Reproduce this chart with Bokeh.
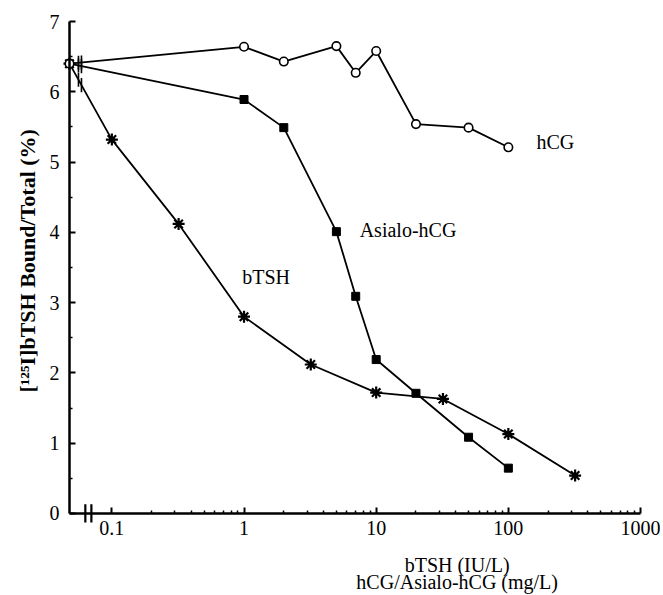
import numpy as np
from bokeh.plotting import figure
from bokeh.models import FixedTicker, Label
from bokeh.embed import file_html
from bokeh.resources import INLINE

# ---- data ----
zero_dose = 0.0478          # position used for the "zero" (no competitor) point
zero_value = 6.4

hcg_x = [1, 2, 5, 7, 10, 20, 50, 100]
hcg_y = [6.64, 6.43, 6.65, 6.27, 6.58, 5.54, 5.49, 5.21]

asialo_x = [1, 2, 5, 7, 10, 20, 50, 100]
asialo_y = [5.89, 5.49, 4.01, 3.09, 2.19, 1.71, 1.085, 0.645]

btsh_x = [0.1, 0.32, 1, 3.2, 10, 32, 100, 320]
btsh_y = [5.32, 4.12, 2.80, 2.12, 1.72, 1.63, 1.13, 0.54]

x_ticks = [0.1, 1, 10, 100, 1000]
x_tick_labels = ["0.1", "1", "10", "100", "1000"]
y_ticks = [0, 1, 2, 3, 4, 5, 6, 7]
x_max = 1000
y_max = 7

FONT = "Liberation Serif"
FS = "20px"

# the frame covers the whole canvas; axes are pinned at the data origin
p = figure(width=660, height=595, x_axis_type="log",
           x_range=(0.01437, 1416.6), y_range=(-1.167, 7.2988),
           output_backend="svg", toolbar_location=None,
           min_border_left=0, min_border_right=0,
           min_border_top=0, min_border_bottom=0)
p.outline_line_color = None
p.xgrid.visible = False
p.ygrid.visible = False
p.background_fill_color = "white"
p.border_fill_color = "white"

# axes
p.xaxis.fixed_location = 0
p.xaxis.bounds = (zero_dose, x_max)
p.yaxis.fixed_location = zero_dose
p.yaxis.bounds = (0, y_max)
minor = [m * 10.0 ** e for e in range(-1, 3) for m in range(2, 10)]
p.xaxis.ticker = FixedTicker(ticks=x_ticks, minor_ticks=minor)
p.xaxis.major_label_overrides = {t: l for t, l in zip(x_ticks, x_tick_labels)}
p.yaxis.ticker = FixedTicker(ticks=y_ticks,
                             minor_ticks=[v + 0.5 for v in y_ticks[:-1]])
for ax in (p.xaxis[0], p.yaxis[0]):
    ax.axis_line_width = 2.5
    ax.axis_line_color = "black"
    ax.major_tick_in = 6
    ax.major_tick_out = 0
    ax.minor_tick_in = 3
    ax.minor_tick_out = 0
    ax.major_tick_line_width = 2
    ax.minor_tick_line_width = 1.5
    ax.major_label_text_font = FONT
    ax.major_label_text_font_size = FS
    ax.major_label_text_color = "black"
p.xaxis.major_label_standoff = 8
p.yaxis.major_label_standoff = 10

# lines
def series(xs, ys):
    return [zero_dose] + list(xs), [zero_value] + list(ys)

for xs, ys in ((hcg_x, hcg_y), (asialo_x, asialo_y), (btsh_x, btsh_y)):
    sx, sy = series(xs, ys)
    p.line(sx, sy, line_color="black", line_width=1.8)

# break marks on the lines near the zero point
break_x = [0.0559, 0.0589]
for xs, ys in ((hcg_x, hcg_y), (asialo_x, asialo_y), (btsh_x, btsh_y)):
    lx0, lx1 = np.log10(zero_dose), np.log10(xs[0])
    for bx in break_x:
        t = (np.log10(bx) - lx0) / (lx1 - lx0)
        yb = zero_value + t * (ys[0] - zero_value)
        p.segment(x0=[bx], y0=[yb - 0.1], x1=[bx], y1=[yb + 0.1],
                  line_color="black", line_width=1.6)

# break marks on the x axis
for bx in [0.063, 0.070]:
    p.segment(x0=[bx], y0=[-0.13], x1=[bx], y1=[0.13],
              line_color="black", line_width=2.2)

# markers
p.scatter(asialo_x, asialo_y, marker="square", size=8,
          fill_color="black", line_color="black")
bx_all, by_all = series(btsh_x, btsh_y)
p.scatter(bx_all, by_all, marker="asterisk", size=12,
          line_color="black", line_width=2.2)
p.scatter(bx_all, by_all, marker="circle", size=5,
          fill_color="black", line_color="black")
hx_all, hy_all = series(hcg_x, hcg_y)
p.scatter(hx_all, hy_all, marker="circle", size=8.5,
          fill_color="white", line_color="black", line_width=1.6)

# series labels
for txt, lx, ly in (("hCG", 163, 5.28), ("Asialo-hCG", 7.5, 4.03),
                    ("bTSH", 0.97, 3.36)):
    p.add_layout(Label(x=lx, y=ly, text=txt, text_font=FONT,
                       text_font_size=FS, text_align="left",
                       text_baseline="middle", text_color="black"))

# x axis title (two lines)
for txt, ly in (("bTSH (IU/L)", -0.74), ("hCG/Asialo-hCG (mg/L)", -0.982)):
    p.add_layout(Label(x=41, y=ly, text=txt, text_font=FONT,
                       text_font_size=FS, text_align="center",
                       text_baseline="middle", text_color="black"))

# y axis title, reading upwards from its start
p.add_layout(Label(x=0.0230, y=1.72, angle=np.pi / 2,
                   text="[\u00b9\u00b2\u2075I]bTSH Bound/Total (%)",
                   text_font=FONT, text_font_size="22px",
                   text_font_style="bold",
                   text_align="left", text_baseline="middle",
                   text_color="black"))

open("out.html", "w").write(file_html(p, INLINE))
